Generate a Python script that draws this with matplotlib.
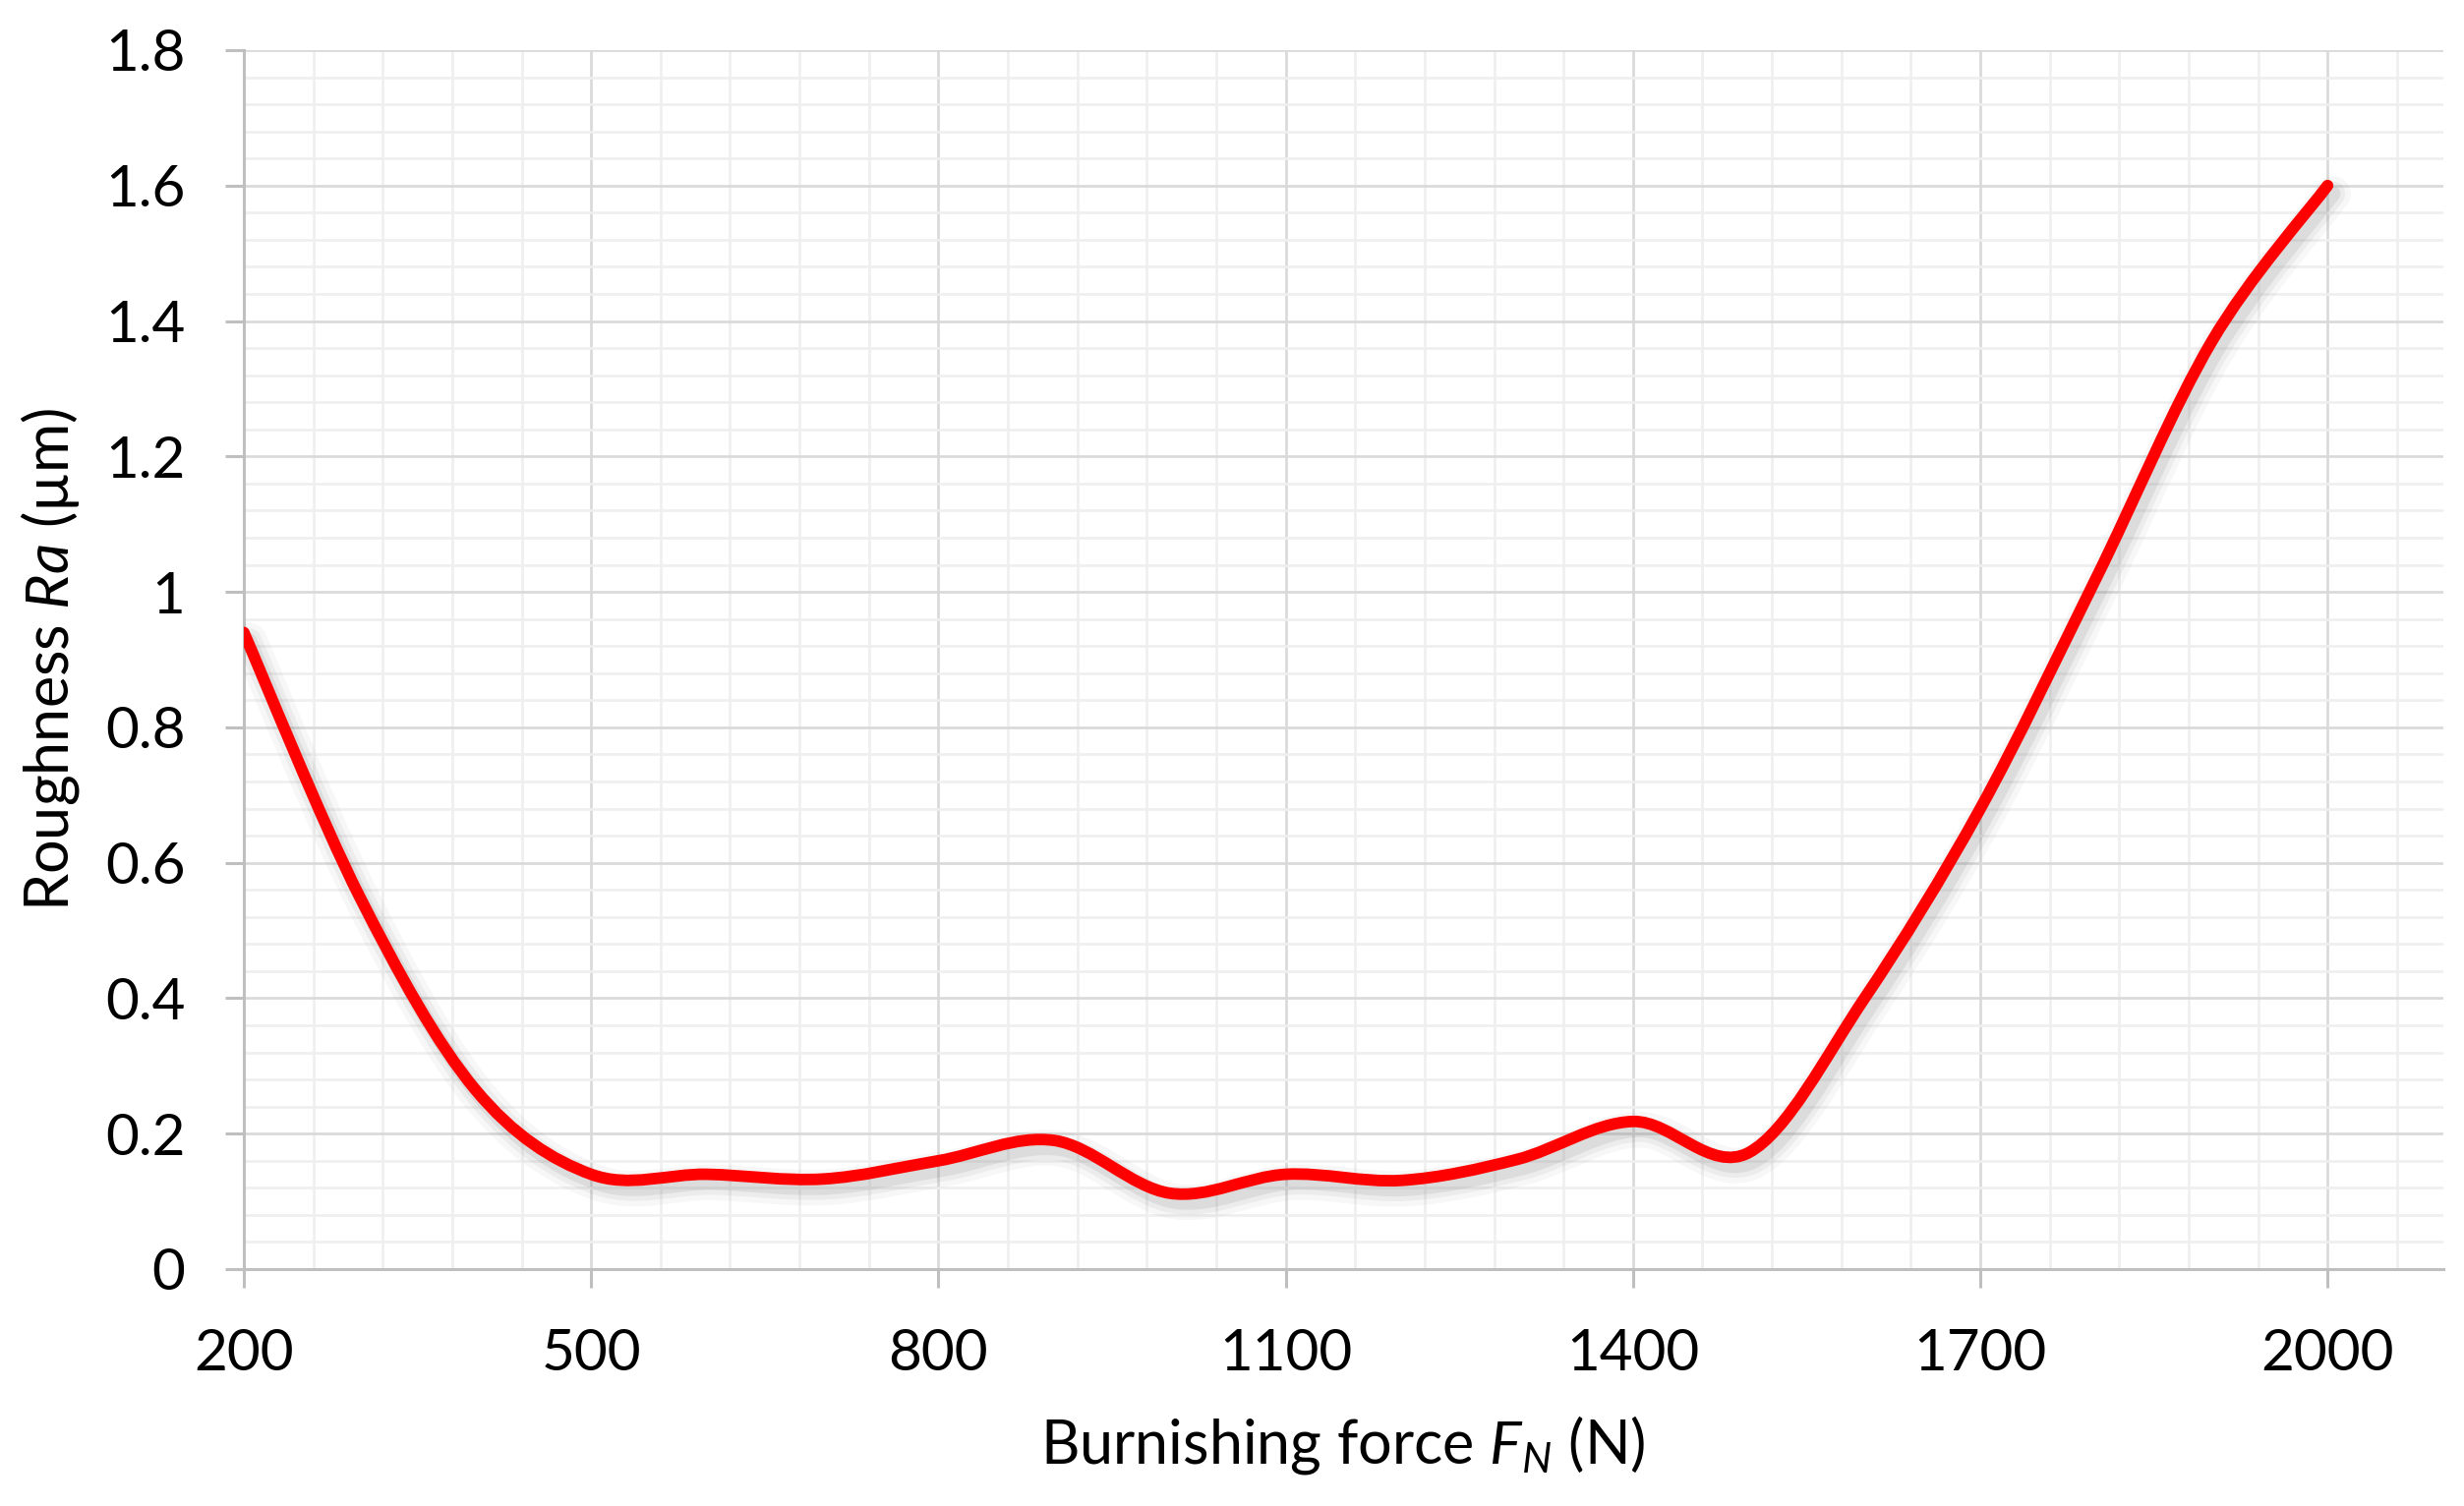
import numpy as np
import matplotlib
matplotlib.use("Agg")
import matplotlib.pyplot as plt
from matplotlib.path import Path
from matplotlib.patches import PathPatch
import matplotlib.patheffects as pe
from matplotlib.ticker import FixedLocator

# ---------------- data ----------------
force = [200, 300, 400, 500, 600, 700, 800, 900, 1000, 1100,
         1200, 1300, 1400, 1500, 1600, 1700, 1800, 1900, 2000]
roughness = [0.94, 0.55, 0.265, 0.14, 0.14, 0.133, 0.16, 0.19, 0.112, 0.14,
             0.131, 0.162, 0.218, 0.172, 0.40, 0.68, 1.02, 1.37, 1.60]

x_major = [200, 500, 800, 1100, 1400, 1700, 2000]
x_tick_labels = ["200", "500", "800", "1100", "1400", "1700", "2000"]
y_major = [0, 0.2, 0.4, 0.6, 0.8, 1.0, 1.2, 1.4, 1.6, 1.8]
y_tick_labels = ["0", "0.2", "0.4", "0.6", "0.8", "1", "1.2", "1.4", "1.6", "1.8"]

# ---------------- style ----------------
plt.rcParams['font.family'] = ['Lato', 'DejaVu Sans']
plt.rcParams['mathtext.fontset'] = 'custom'
plt.rcParams['mathtext.rm'] = 'Lato'
plt.rcParams['mathtext.it'] = 'Lato:italic'

FS_TICK = 42
FS_LABEL = 44
fig = plt.figure(figsize=(25.06, 15.32), dpi=100)
ax = fig.add_axes([248 / 2506, 1 - 1291 / 1532, (2485 - 248) / 2506, (1291 - 51) / 1532])

ax.set_xlim(200, 2100)
ax.set_ylim(0, 1.8)

ax.xaxis.set_major_locator(FixedLocator(x_major))
ax.xaxis.set_minor_locator(FixedLocator(np.arange(200, 2100, 60)))
ax.yaxis.set_major_locator(FixedLocator(y_major))
ax.yaxis.set_minor_locator(FixedLocator(np.arange(0, 1.81, 0.04)))
ax.set_xticklabels(x_tick_labels)
ax.set_yticklabels(y_tick_labels)

ax.grid(which='minor', color='#efefef', linewidth=1.9, zorder=0)
ax.grid(which='major', color='#d9d9d9', linewidth=1.9, zorder=0.5)
ax.set_axisbelow(True)

for s in ['top', 'right']:
    ax.spines[s].set_visible(False)
for s in ['left', 'bottom']:
    ax.spines[s].set_color('#bfbfbf')
    ax.spines[s].set_linewidth(2.2)

ax.tick_params(which='major', direction='out', length=14, width=2.2, color='#bfbfbf',
               labelsize=FS_TICK, labelcolor='black')
ax.tick_params(axis='y', which='major', pad=29)
ax.tick_params(axis='x', which='major', pad=29)
ax.tick_params(which='minor', length=0)

# ---------------- smoothed line (Excel-like Bezier) ----------------
P = np.column_stack([force, roughness]).astype(float)
Pext = np.vstack([P[0], P, P[-1]])
verts = [P[0]]
codes = [Path.MOVETO]
for i in range(len(P) - 1):
    p0, p1 = P[i], P[i + 1]
    pm, pp = Pext[i], Pext[i + 3]
    c1 = p0 + (p1 - pm) / 6.0
    c2 = p1 - (pp - p0) / 6.0
    verts += [c1, c2, p1]
    codes += [Path.CURVE4] * 3

patch = PathPatch(Path(verts, codes), facecolor='none', edgecolor='#ff0000',
                  linewidth=8.5, capstyle='round', joinstyle='round', zorder=3,
                  transform=ax.transData)
patch.set_path_effects([
    pe.SimpleLineShadow(offset=(4, -6), shadow_color='#7f7f7f', alpha=0.06, linewidth=26),
    pe.SimpleLineShadow(offset=(4, -6), shadow_color='#7f7f7f', alpha=0.09, linewidth=18),
    pe.SimpleLineShadow(offset=(4, -6), shadow_color='#7f7f7f', alpha=0.14, linewidth=11),
    pe.Normal(),
])
ax.add_patch(patch)

# ---------------- labels ----------------
fig.text(1366 / 2506, 1 - 1488 / 1532, r'Burnishing force $\mathit{F}_{\mathit{N}}$ (N)',
         ha='center', va='baseline', fontsize=FS_LABEL)
fig.text(51 / 2506, 1 - 671 / 1532, r'Roughness $\mathit{Ra}$ (µm)',
         ha='center', va='center', rotation=90, fontsize=FS_LABEL)

fig.savefig('out.png', dpi=100, facecolor='white')
